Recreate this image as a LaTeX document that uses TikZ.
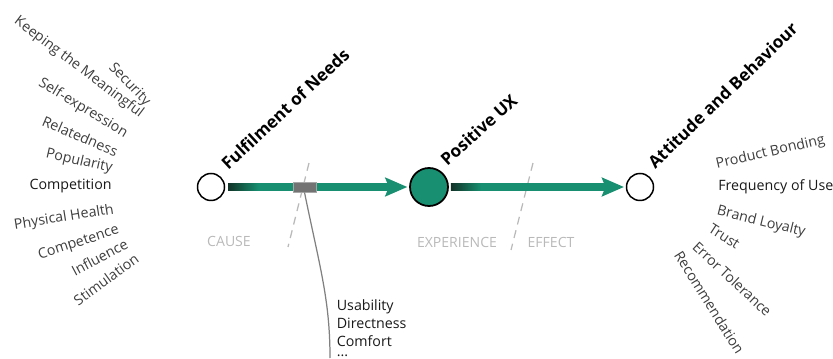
\documentclass[tikz,border=0pt]{standalone}
\usepackage{fontspec}
\setmainfont{Open Sans}
\usepackage{tikz}
\usetikzlibrary{positioning,calc}
\usetikzlibrary{arrows.meta}
\definecolor{uxgreen}{RGB}{23,143,112}
\definecolor{uxdark}{RGB}{18,52,40}
\definecolor{lbl}{RGB}{62,62,62}
\definecolor{lbldark}{RGB}{25,25,25}
\definecolor{faint}{RGB}{185,185,185}
\tikzset{
  state/.style={circle,draw=black,line width=0.85pt,fill=white,minimum size=0.54cm,inner sep=0pt},
  flow/.style={line width=4.5pt,uxgreen,-{Stealth[length=12.5pt,width=10.5pt,inset=2pt]}},
  title/.style={font=\fontsize{9.7}{11}\selectfont\bfseries,inner sep=0pt,anchor=base west},
  need/.style={font=\fontsize{8.1}{10.2}\selectfont,inner sep=0pt},
  phase/.style={font=\fontsize{8}{10}\selectfont,text=faint,inner sep=0pt},
  divider/.style={faint,line width=0.7pt,dash pattern=on 4.5pt off 3.4pt},
}

\begin{document}
\begin{tikzpicture}

\useasboundingbox (0,0) rectangle (16.66,7.16);

\draw[divider] (6.18,3.90) -- (5.76,2.22);
\draw[divider] (10.66,3.90) -- (10.22,2.16);

\node (need) [state] at (4.22,3.42) {};
\node (ux) [state,fill=uxgreen,minimum size=0.76cm,line width=1pt] at (8.58,3.42) {};
\node (attitude) [state] at (12.80,3.42) {};

\draw[flow] ([xshift=1.7pt]need.east) -- ([xshift=-1pt]ux.west);
\draw[flow] ([xshift=1.2pt]ux.east) -- ([xshift=-1pt]attitude.west);
\shade[left color=uxdark,right color=uxgreen] ([xshift=1.7pt,yshift=-2.25pt]need.east) rectangle ++(0.6cm,4.5pt);
\shade[left color=uxdark,right color=uxgreen] ([xshift=1.2pt,yshift=-2.25pt]ux.east) rectangle ++(0.6cm,4.5pt);

\node (sel) [fill=black!55,draw=black!35,line width=0.5pt,minimum width=0.46cm,minimum height=0.2cm,inner sep=0pt] at (6.09,3.42) {};
\coordinate (qend) at (6.60,0.0);
\draw[black!50,line width=0.7pt] (sel.south) .. controls (6.40,1.80) and (6.60,1.16) .. (qend);
\node (quality) [need,text=lbldark,anchor=north west,align=left] at (6.73,1.17) {Usability\\Directness\\Comfort\\[-4.5pt]...};

\node (cause) [phase] at (4.58,2.34) {CAUSE};
\node (experience) [phase] at (9.14,2.32) {EXPERIENCE};
\node (effect) [phase] at (11.02,2.32) {EFFECT};

\node (need-title) [title,rotate=43] at (4.56,3.74) {Fulfilment of Needs};
\node (ux-title) [title,rotate=42] at (8.94,3.82) {Positive UX};
\node (attitude-title) [title,rotate=44] at (13.10,3.77) {Attitude and Behaviour};

\foreach \ang/\x/\y/\col/\txt [count=\i] in {
  -46/2.96/5.08/lbl/Security,
  -37/2.84/4.86/lbl/Keeping the Meaningful,
  -31/2.53/4.47/lbl/Self-expression,
  -23/2.35/4.12/lbl/Relatedness,
  -13/2.25/3.78/lbl/Popularity,
  0/2.24/3.44/lbldark/Competition,
  9/2.28/2.96/lbl/Physical Health,
  18/2.38/2.56/lbl/Competence,
  28/2.54/2.30/lbl/Influence,
  36/2.74/2.02/lbl/Stimulation}
  \node (motive-\i) [need,text=\col,anchor=east,rotate=\ang] at (\x,\y) {\txt};

\foreach \ang/\x/\y/\col/\txt [count=\i] in {
  13/14.32/3.86/lbl/Product Bonding,
  0/14.36/3.42/lbldark/Frequency of Use,
  -14/14.34/2.94/lbl/Brand Loyalty,
  -33/14.20/2.62/lbl/Trust,
  -43/13.90/2.28/lbl/Error Tolerance,
  -58/13.56/2.12/lbl/Recommendation}
  \node (effect-\i) [need,text=\col,anchor=west,rotate=\ang] at (\x,\y) {\txt};

\end{tikzpicture}
\end{document}
